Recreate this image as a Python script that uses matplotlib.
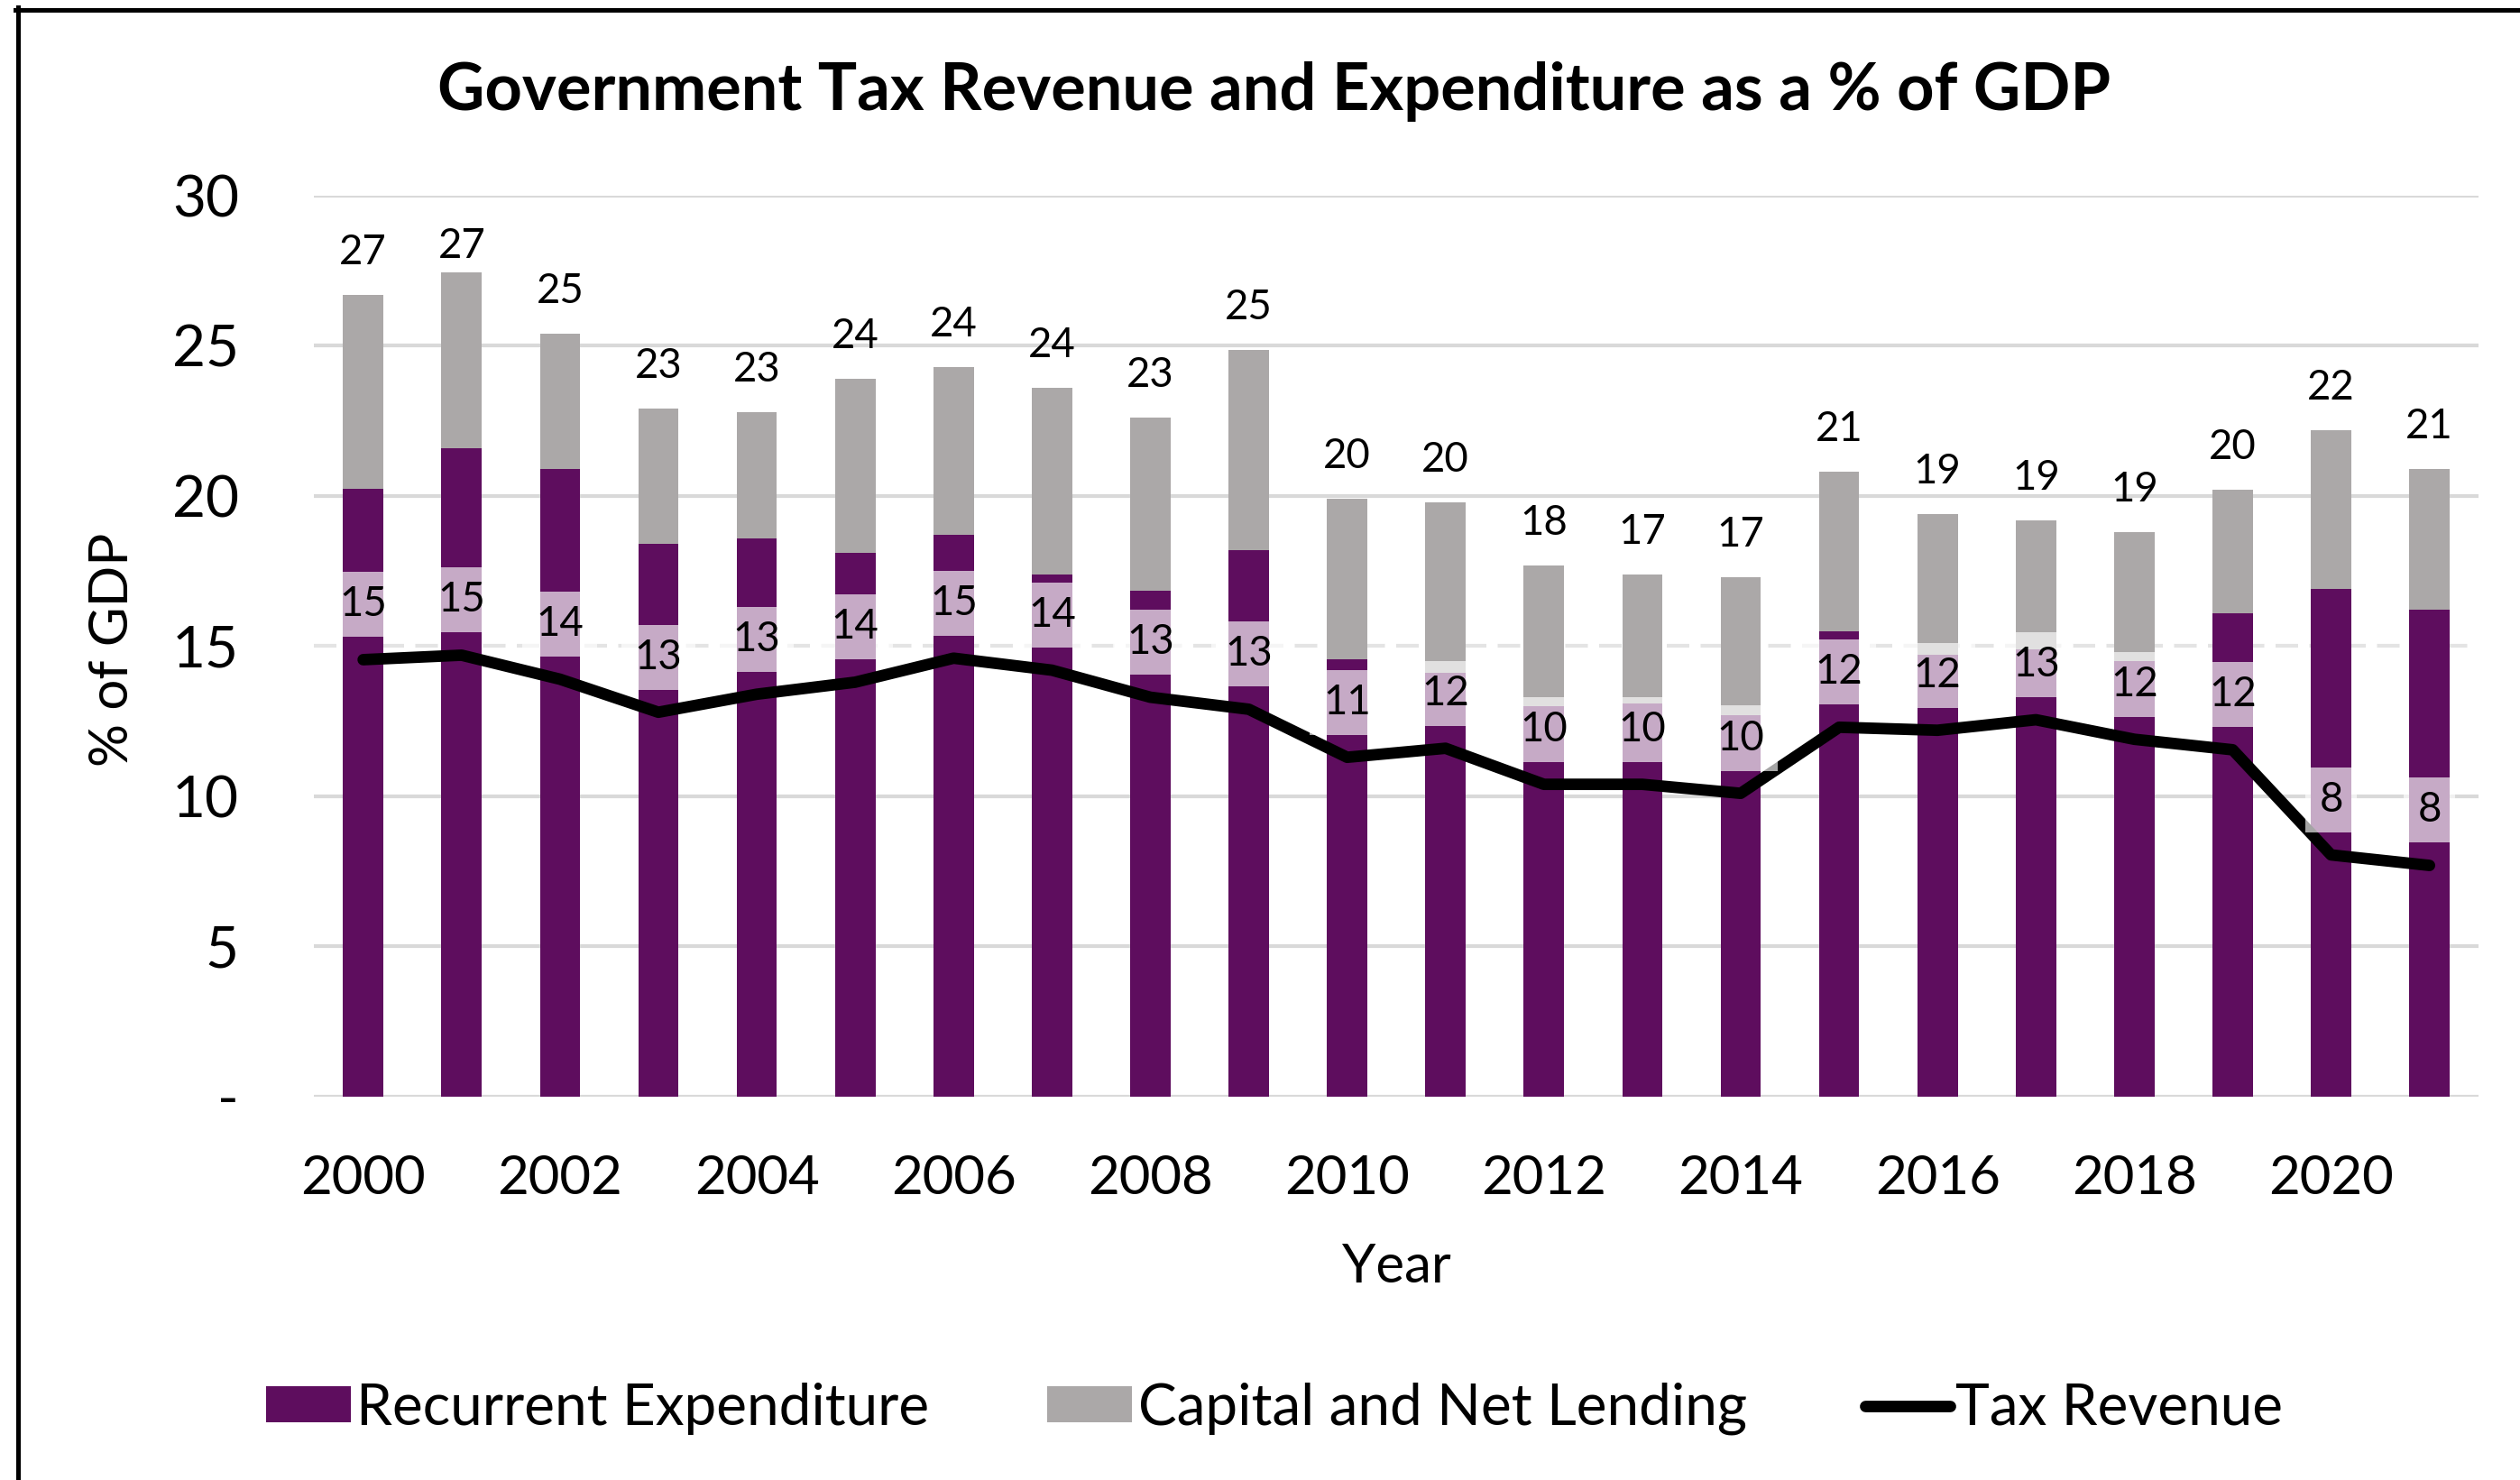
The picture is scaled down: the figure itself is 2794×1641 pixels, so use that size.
import matplotlib
matplotlib.use("Agg")
import matplotlib.pyplot as plt
from matplotlib.lines import Line2D
import numpy as np

# values (% of GDP)
years = list(range(2000, 2022))
recurrent = [20.25, 21.6, 20.9, 18.4, 18.6, 18.1, 18.7, 17.4, 16.85, 18.2, 14.55,
             14.1, 13.0, 13.1, 12.7, 15.5, 14.7, 14.9, 14.5, 16.1, 16.9, 16.2]
total_exp = [26.7, 27.45, 25.4, 22.9, 22.8, 23.9, 24.3, 23.6, 22.6, 24.85, 19.9,
             19.8, 17.7, 17.4, 17.3, 20.8, 19.4, 19.2, 18.8, 20.2, 22.2, 20.9]
capital = [round(t - r, 2) for t, r in zip(total_exp, recurrent)]
tax_revenue = [14.55, 14.7, 13.9, 12.8, 13.4, 13.8, 14.6, 14.2, 13.3, 12.9, 11.3,
               11.6, 10.4, 10.4, 10.1, 12.3, 12.2, 12.55, 11.9, 11.55, 8.05, 7.7]
ytick_vals = [0, 5, 10, 15, 20, 25, 30]
ytick_labels = ["-", "5", "10", "15", "20", "25", "30"]

purple = "#5E0D5E"
grey = "#ABA8A8"

plt.rcParams["font.family"] = ["Lato", "DejaVu Sans"]

fig = plt.figure(figsize=(13.97, 8.205), dpi=200)
ax = fig.add_axes([0.1246, 0.259, 0.859, 0.6088])

x = np.arange(len(years))
w = 0.41
b1 = ax.bar(x, recurrent, w, color=purple, label="Recurrent Expenditure", zorder=2)
b2 = ax.bar(x, capital, w, bottom=recurrent, color=grey, label="Capital and Net Lending", zorder=2)
ln, = ax.plot(x, tax_revenue, color="black", lw=4.6, solid_joinstyle="round",
              solid_capstyle="round", label="Tax Revenue", zorder=3)

# totals above the stacks, kept inside the plot area
for xi, t in zip(x, total_exp):
    ax.text(xi, min(t + 1.41, 28.33), f"{t:.0f}", ha="center", va="center",
            fontsize=16.4, zorder=5)

# tax revenue labels with semi-transparent white boxes
for xi, v in zip(x, tax_revenue):
    ax.annotate(f"{v:.0f}", (xi, v), xytext=(0, 22), textcoords="offset points",
                ha="center", va="center", fontsize=16.4, zorder=6,
                bbox=dict(boxstyle="square,pad=0.33", fc="white", ec="none", alpha=0.65))

ax.set_xlim(-0.5, len(years) - 0.5)
ax.set_ylim(0, 30)
ax.set_yticks(ytick_vals)
ax.set_yticklabels(ytick_labels)
ax.set_xticks(x[::2])
ax.set_xticklabels([str(y) for y in years[::2]])
ax.tick_params(axis="both", length=0, labelsize=21.6)
ax.tick_params(axis="x", pad=23)
ax.tick_params(axis="y", pad=30, labelsize=23)

ax.set_axisbelow(True)
ax.grid(axis="y", color="#D9D9D9", lw=1.5)
for val, gl in zip(ytick_vals, ax.get_ygridlines()):
    if val == 15:
        gl.set_color("#E4E4E4")
        gl.set_linestyle((0, (6, 3)))
for s in ax.spines.values():
    s.set_visible(False)

ax.set_ylabel("% of GDP", fontsize=21.6)
ax.yaxis.label.set_va("center")
ax.yaxis.set_label_coords(-0.0929, 0.496)
ax.set_xlabel("Year", fontsize=21.6)
ax.xaxis.set_label_coords(0.5, -0.162)

fig.text(0.5057, 0.9257, "Government Tax Revenue and Expenditure as a % of GDP",
         ha="center", va="baseline", fontsize=26, fontweight="bold")

fig.legend([b1, b2, ln], ["Recurrent Expenditure", "Capital and Net Lending", "Tax Revenue"],
           loc="center", bbox_to_anchor=(0.5057, 1 - 1562 / 1641),
           ncol=3, frameon=False, fontsize=23, handlelength=1.47, handleheight=0.58,
           handletextpad=0.1, columnspacing=2.05)

# chart frame (only top and left edges are visible in the crop)
fig.add_artist(Line2D([19.5 / 2794, 19.5 / 2794], [0, 1 - 8 / 1641], color="black",
                      lw=1.8, transform=fig.transFigure))
fig.add_artist(Line2D([17 / 2794, 1], [1 - 10.5 / 1641, 1 - 10.5 / 1641], color="black",
                      lw=1.8, transform=fig.transFigure))

fig.savefig("out.png", dpi=200)
